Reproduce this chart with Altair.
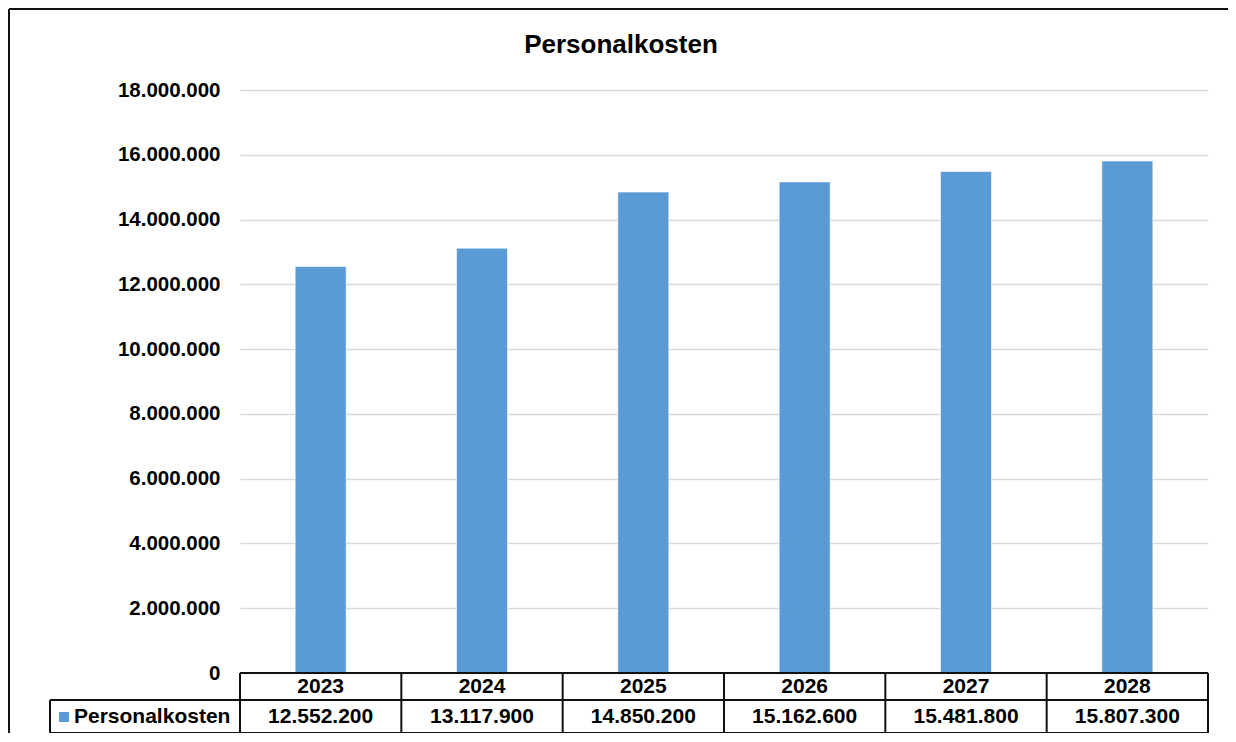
import altair as alt
import pandas as pd

years = ["2023", "2024", "2025", "2026", "2027", "2028"]
values = [12552200, 13117900, 14850200, 15162600, 15481800, 15807300]
y_ticks = [0, 2000000, 4000000, 6000000, 8000000, 10000000, 12000000, 14000000, 16000000, 18000000]
series_name = "Personalkosten"
title_text = "Personalkosten"

BLUE = "#5B9BD5"
FONT = "Liberation Sans"
FS = 21

df = pd.DataFrame({
    "year": years,
    "value": values,
    "label": [f"{v:,}".replace(",", ".") for v in values],
})

W, H = 968, 583

xs = alt.Scale(domain=years, paddingInner=0, paddingOuter=0)

base = alt.Chart(df)

bars = base.mark_bar(size=51, color=BLUE, stroke="#ffffff", strokeWidth=0.6).encode(
    x=alt.X("year:N", scale=xs, axis=None),
    y=alt.Y("value:Q",
            scale=alt.Scale(domain=[0, 18000000], nice=False),
            axis=alt.Axis(values=y_ticks, title=None, domain=False, ticks=False,
                          grid=True, gridColor="#D9D9D9", gridWidth=1.5,
                          labelFont=FONT, labelFontSize=20.5, labelFontWeight="bold",
                          labelColor="#000000", labelPadding=20,
                          labelExpr="replace(format(datum.value, ','), /,/g, '.')")),
)

year_text = base.mark_text(font=FONT, fontSize=FS, fontWeight="bold", color="#000000",
                           baseline="middle").encode(
    x=alt.X("year:N", scale=xs, axis=None),
    y=alt.value(597),
    text="year:N",
)

value_text = base.mark_text(font=FONT, fontSize=FS, fontWeight="bold", color="#000000",
                            baseline="middle").encode(
    x=alt.X("year:N", scale=xs, axis=None),
    y=alt.value(627),
    text="label:N",
)

dividers = base.mark_rule(color="#111111", strokeWidth=2).encode(
    x=alt.X("year:N", scale=xs, axis=None, bandPosition=0),
    y=alt.value(583),
    y2=alt.value(643),
)

one = alt.Chart(pd.DataFrame({"a": [0]}))

def rule(**enc):
    return one.mark_rule(color="#111111", strokeWidth=2).encode(**enc)

table_lines = [
    rule(x=alt.value(W), y=alt.value(583), y2=alt.value(643)),
    rule(x=alt.value(-190), y=alt.value(610), y2=alt.value(643)),
    rule(x=alt.value(0), x2=alt.value(W), y=alt.value(583)),
    rule(x=alt.value(-190), x2=alt.value(W), y=alt.value(610)),
    rule(x=alt.value(-190), x2=alt.value(W), y=alt.value(643)),
]

frame = [
    rule(x=alt.value(-231), x2=alt.value(1100), y=alt.value(-81)),
    rule(x=alt.value(-231), y=alt.value(-81), y2=alt.value(700)),
]

legend_sq = one.mark_square(size=100, color=BLUE, opacity=1).encode(
    x=alt.value(-176), y=alt.value(627)
)
legend_txt = one.mark_text(font=FONT, fontSize=FS, fontWeight="bold", color="#000000",
                           align="left", baseline="middle", text=series_name).encode(
    x=alt.value(-166), y=alt.value(627)
)

title = one.mark_text(font=FONT, fontSize=26, fontWeight="bold", color="#000000",
                      align="center", baseline="middle", text=title_text).encode(
    x=alt.value(381), y=alt.value(-45)
)

chart = alt.layer(bars, year_text, value_text, dividers, *table_lines, *frame,
                  legend_sq, legend_txt, title).properties(
    width=W, height=H,
    autosize=alt.AutoSizeParams(type="none"),
    padding={"left": 232, "top": 82, "right": 20, "bottom": 60},
).configure(background="#ffffff").configure_view(stroke=None)

chart.save("out.html", embed_options={"renderer": "svg", "actions": False})
